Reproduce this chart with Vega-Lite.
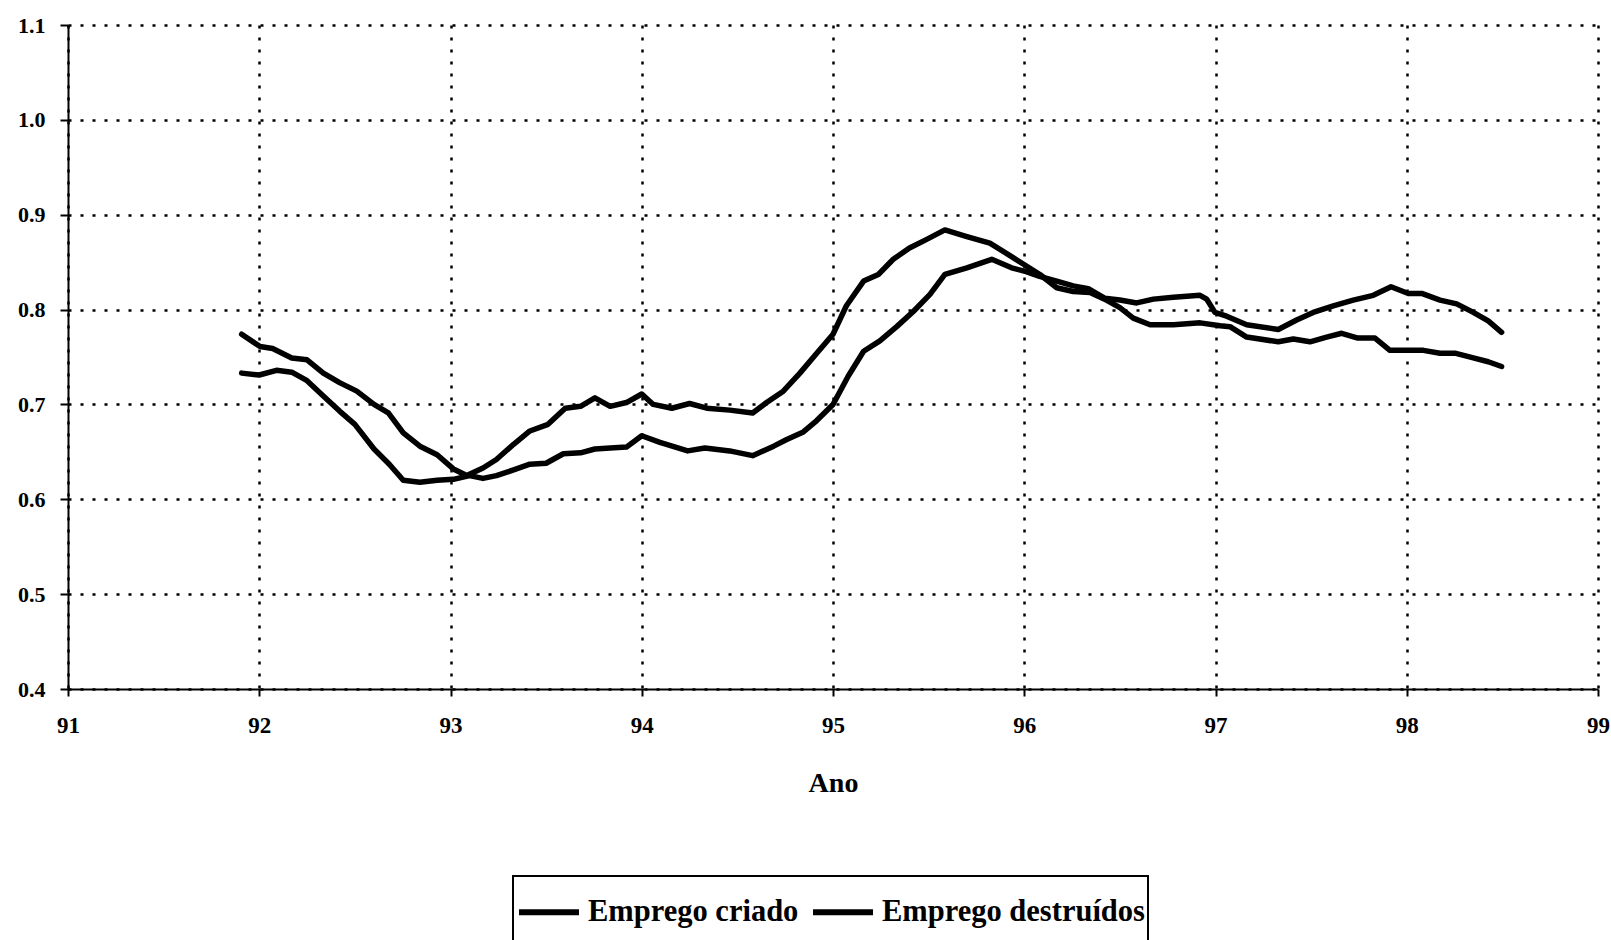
{
  "$schema": "https://vega.github.io/schema/vega-lite/v6.json",
  "width": 1530,
  "height": 664,
  "autosize": "none",
  "padding": {"left": 68, "top": 25, "right": 13, "bottom": 251},
  "background": "white",
  "datasets": {
    "criado": [
      {"ano": 91.908, "valor": 0.774}, {"ano": 92.004, "valor": 0.761}, {"ano": 92.07, "valor": 0.759},
      {"ano": 92.17, "valor": 0.749}, {"ano": 92.25, "valor": 0.747}, {"ano": 92.335, "valor": 0.733},
      {"ano": 92.42, "valor": 0.723}, {"ano": 92.51, "valor": 0.714}, {"ano": 92.6, "valor": 0.700},
      {"ano": 92.675, "valor": 0.691}, {"ano": 92.753, "valor": 0.670}, {"ano": 92.84, "valor": 0.656},
      {"ano": 92.93, "valor": 0.647}, {"ano": 93.015, "valor": 0.632}, {"ano": 93.085, "valor": 0.625},
      {"ano": 93.17, "valor": 0.633}, {"ano": 93.24, "valor": 0.642}, {"ano": 93.33, "valor": 0.658},
      {"ano": 93.415, "valor": 0.672}, {"ano": 93.51, "valor": 0.679}, {"ano": 93.6, "valor": 0.696},
      {"ano": 93.68, "valor": 0.698}, {"ano": 93.755, "valor": 0.707}, {"ano": 93.835, "valor": 0.698},
      {"ano": 93.92, "valor": 0.702}, {"ano": 94.0, "valor": 0.711}, {"ano": 94.06, "valor": 0.700},
      {"ano": 94.157, "valor": 0.696}, {"ano": 94.25, "valor": 0.701}, {"ano": 94.34, "valor": 0.696},
      {"ano": 94.46, "valor": 0.694}, {"ano": 94.58, "valor": 0.691}, {"ano": 94.653, "valor": 0.702},
      {"ano": 94.74, "valor": 0.714}, {"ano": 94.827, "valor": 0.733}, {"ano": 94.915, "valor": 0.754},
      {"ano": 95.0, "valor": 0.774}, {"ano": 95.07, "valor": 0.804}, {"ano": 95.16, "valor": 0.830},
      {"ano": 95.237, "valor": 0.837}, {"ano": 95.315, "valor": 0.853}, {"ano": 95.4, "valor": 0.865},
      {"ano": 95.49, "valor": 0.874}, {"ano": 95.585, "valor": 0.884}, {"ano": 95.7, "valor": 0.877},
      {"ano": 95.82, "valor": 0.870}, {"ano": 95.917, "valor": 0.858}, {"ano": 96.003, "valor": 0.847},
      {"ano": 96.082, "valor": 0.837}, {"ano": 96.17, "valor": 0.823}, {"ano": 96.256, "valor": 0.819},
      {"ano": 96.344, "valor": 0.818}, {"ano": 96.42, "valor": 0.811}, {"ano": 96.5, "valor": 0.802},
      {"ano": 96.57, "valor": 0.791}, {"ano": 96.658, "valor": 0.784}, {"ano": 96.78, "valor": 0.784},
      {"ano": 96.92, "valor": 0.786}, {"ano": 97.024, "valor": 0.783}, {"ano": 97.076, "valor": 0.782},
      {"ano": 97.163, "valor": 0.771}, {"ano": 97.328, "valor": 0.766}, {"ano": 97.407, "valor": 0.769},
      {"ano": 97.494, "valor": 0.766}, {"ano": 97.581, "valor": 0.771}, {"ano": 97.66, "valor": 0.775},
      {"ano": 97.744, "valor": 0.770}, {"ano": 97.834, "valor": 0.770}, {"ano": 97.912, "valor": 0.757},
      {"ano": 98.008, "valor": 0.757}, {"ano": 98.087, "valor": 0.757}, {"ano": 98.174, "valor": 0.754},
      {"ano": 98.252, "valor": 0.754}, {"ano": 98.348, "valor": 0.749}, {"ano": 98.426, "valor": 0.745},
      {"ano": 98.496, "valor": 0.740}
    ],
    "destruidos": [
      {"ano": 91.908, "valor": 0.733}, {"ano": 92.0, "valor": 0.731}, {"ano": 92.09, "valor": 0.736},
      {"ano": 92.17, "valor": 0.734}, {"ano": 92.25, "valor": 0.725}, {"ano": 92.335, "valor": 0.709},
      {"ano": 92.42, "valor": 0.693}, {"ano": 92.5, "valor": 0.679}, {"ano": 92.6, "valor": 0.653},
      {"ano": 92.68, "valor": 0.637}, {"ano": 92.753, "valor": 0.620}, {"ano": 92.84, "valor": 0.618},
      {"ano": 92.93, "valor": 0.620}, {"ano": 93.015, "valor": 0.621}, {"ano": 93.1, "valor": 0.625},
      {"ano": 93.17, "valor": 0.622}, {"ano": 93.24, "valor": 0.625}, {"ano": 93.33, "valor": 0.631},
      {"ano": 93.415, "valor": 0.637}, {"ano": 93.5, "valor": 0.638}, {"ano": 93.59, "valor": 0.648},
      {"ano": 93.68, "valor": 0.649}, {"ano": 93.755, "valor": 0.653}, {"ano": 93.835, "valor": 0.654},
      {"ano": 93.92, "valor": 0.655}, {"ano": 94.0, "valor": 0.667}, {"ano": 94.095, "valor": 0.660},
      {"ano": 94.24, "valor": 0.651}, {"ano": 94.33, "valor": 0.654}, {"ano": 94.46, "valor": 0.651},
      {"ano": 94.58, "valor": 0.646}, {"ano": 94.69, "valor": 0.656}, {"ano": 94.758, "valor": 0.663},
      {"ano": 94.845, "valor": 0.671}, {"ano": 94.915, "valor": 0.683}, {"ano": 95.0, "valor": 0.700},
      {"ano": 95.08, "valor": 0.730}, {"ano": 95.16, "valor": 0.756}, {"ano": 95.245, "valor": 0.767},
      {"ano": 95.333, "valor": 0.782}, {"ano": 95.42, "valor": 0.798}, {"ano": 95.507, "valor": 0.816},
      {"ano": 95.585, "valor": 0.837}, {"ano": 95.7, "valor": 0.844}, {"ano": 95.83, "valor": 0.853},
      {"ano": 95.934, "valor": 0.844}, {"ano": 96.01, "valor": 0.840}, {"ano": 96.08, "valor": 0.835},
      {"ano": 96.17, "valor": 0.830}, {"ano": 96.256, "valor": 0.825}, {"ano": 96.335, "valor": 0.822},
      {"ano": 96.42, "valor": 0.812}, {"ano": 96.5, "valor": 0.810}, {"ano": 96.588, "valor": 0.807},
      {"ano": 96.675, "valor": 0.811}, {"ano": 96.78, "valor": 0.813}, {"ano": 96.919, "valor": 0.815},
      {"ano": 96.954, "valor": 0.811}, {"ano": 96.997, "valor": 0.797}, {"ano": 97.058, "valor": 0.793},
      {"ano": 97.163, "valor": 0.784}, {"ano": 97.328, "valor": 0.779}, {"ano": 97.424, "valor": 0.789},
      {"ano": 97.511, "valor": 0.797}, {"ano": 97.616, "valor": 0.804}, {"ano": 97.72, "valor": 0.810},
      {"ano": 97.825, "valor": 0.815}, {"ano": 97.918, "valor": 0.824}, {"ano": 98.008, "valor": 0.817},
      {"ano": 98.078, "valor": 0.817}, {"ano": 98.174, "valor": 0.810}, {"ano": 98.261, "valor": 0.806},
      {"ano": 98.348, "valor": 0.797}, {"ano": 98.426, "valor": 0.788}, {"ano": 98.496, "valor": 0.776}
    ]
  },
  "layer": [
    {
      "data": {"name": "criado"},
      "transform": [{"calculate": "'Emprego criado'", "as": "serie"}],
      "mark": {"type": "line", "strokeWidth": 5.5, "strokeJoin": "round", "strokeCap": "round"},
      "encoding": {
        "x": {"field": "ano", "type": "quantitative"},
        "y": {"field": "valor", "type": "quantitative"},
        "color": {"field": "serie", "type": "nominal"}
      }
    },
    {
      "data": {"name": "destruidos"},
      "transform": [{"calculate": "'Emprego destruídos'", "as": "serie"}],
      "mark": {"type": "line", "strokeWidth": 5.5, "strokeJoin": "round", "strokeCap": "round"},
      "encoding": {
        "x": {"field": "ano", "type": "quantitative"},
        "y": {"field": "valor", "type": "quantitative"},
        "color": {"field": "serie", "type": "nominal"}
      }
    }
  ],
  "encoding": {
    "x": {
      "field": "ano",
      "type": "quantitative",
      "scale": {"domain": [91, 99], "nice": false, "zero": false},
      "axis": {
        "title": "Ano",
        "values": [91, 92, 93, 94, 95, 96, 97, 98, 99],
        "format": "d",
        "labelFlush": false,
        "tickSize": 7,
        "labelPadding": 18,
        "labelFontSize": 23,
        "titleFontSize": 28,
        "titlePadding": 32
      }
    },
    "y": {
      "field": "valor",
      "type": "quantitative",
      "scale": {"domain": [0.4, 1.1], "nice": false, "zero": false},
      "axis": {
        "title": null,
        "values": [0.4, 0.5, 0.6, 0.7, 0.8, 0.9, 1.0, 1.1],
        "format": ".1f",
        "labelFlush": false,
        "tickSize": 8,
        "labelPadding": 15,
        "labelFontSize": 22
      }
    },
    "color": {
      "field": "serie",
      "type": "nominal",
      "scale": {"domain": ["Emprego criado", "Emprego destruídos"], "range": ["#000000", "#000000"]},
      "legend": {
        "title": " ",
        "titleOrient": "bottom",
        "titleFontSize": 20,
        "titlePadding": 0,
        "orient": "none",
        "legendX": 445,
        "legendY": 851,
        "direction": "horizontal",
        "symbolType": "stroke",
        "symbolSize": 3600,
        "symbolStrokeWidth": 6,
        "labelFont": "Liberation Serif",
        "labelFontWeight": "bold",
        "labelFontSize": 30.5,
        "labelColor": "#000000",
        "labelLimit": 500,
        "labelOffset": 6,
        "columnPadding": 2,
        "padding": 3,
        "strokeColor": "#000000"
      }
    }
  },
  "config": {
    "view": {"stroke": null},
    "font": "Liberation Serif",
    "axis": {
      "labelFont": "Liberation Serif",
      "labelFontWeight": "bold",
      "labelColor": "#000000",
      "titleFont": "Liberation Serif",
      "titleFontWeight": "bold",
      "titleColor": "#000000",
      "domainColor": "#000000",
      "domainWidth": 2,
      "tickColor": "#000000",
      "tickWidth": 2,
      "grid": true,
      "gridColor": "#000000",
      "gridOpacity": 1,
      "gridWidth": 2.5,
      "gridDash": [3, 9],
      "gridCap": "butt"
    },
    "legend": {"strokeWidth": 2}
  }
}
